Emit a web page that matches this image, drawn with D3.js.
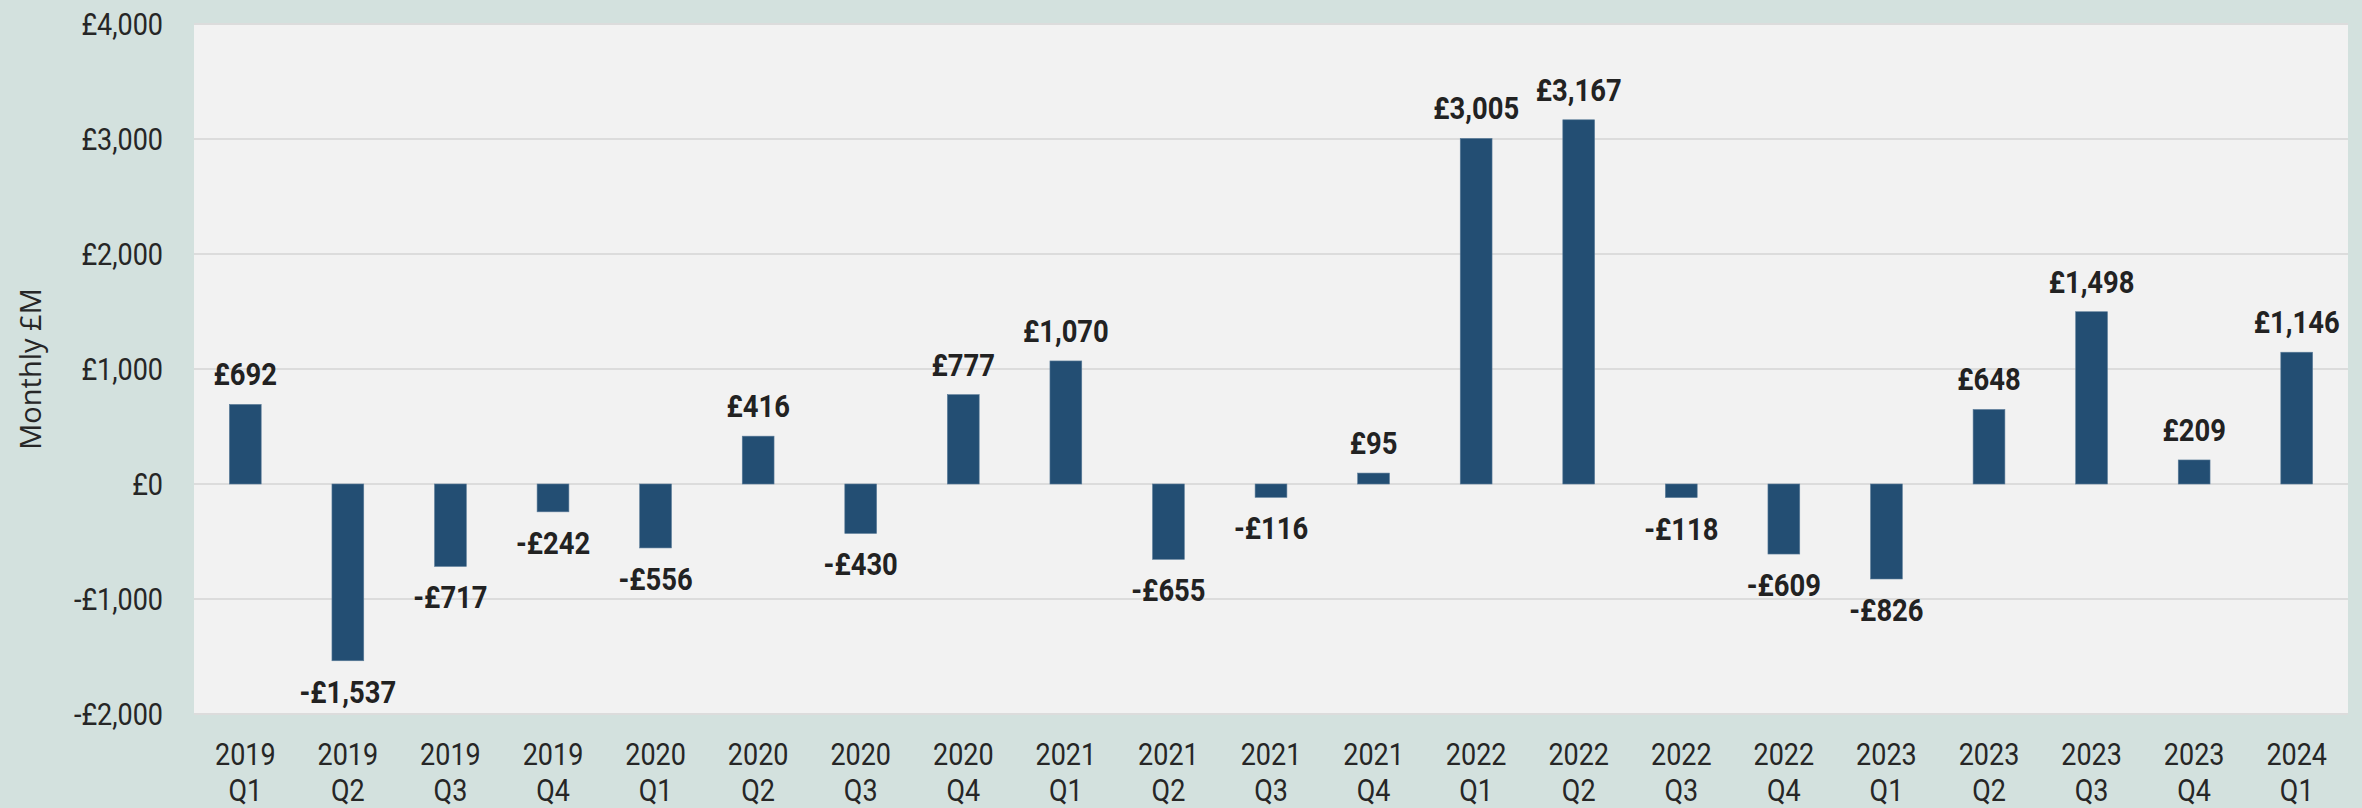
<!DOCTYPE html>
<html><head><meta charset="utf-8">
<script src="https://cdn.jsdelivr.net/npm/d3@7"></script>
<style>
html,body{margin:0;padding:0;background:#d3e1de;}
svg{display:block;}
</style></head>
<body>
<svg id="chart" width="2362" height="808"></svg>
<script>
const years = ["2019","2019","2019","2019","2020","2020","2020","2020","2021","2021","2021","2021","2022","2022","2022","2022","2023","2023","2023","2023","2024"];
const quarters = ["Q1","Q2","Q3","Q4","Q1","Q2","Q3","Q4","Q1","Q2","Q3","Q4","Q1","Q2","Q3","Q4","Q1","Q2","Q3","Q4","Q1"];
const values = [692,-1537,-717,-242,-556,416,-430,777,1070,-655,-116,95,3005,3167,-118,-609,-826,648,1498,209,1146];
const yTicks = [-2000,-1000,0,1000,2000,3000,4000];
const yTitle = "Monthly £M";

const W = 2362, H = 808;
const m = {top:24, right:14, bottom:94, left:194};
const svg = d3.select("#chart");
const cats = values.map((d,i)=>i);
const x = d3.scaleBand().domain(cats).range([m.left, W-m.right]).paddingInner(0.69).paddingOuter(0.345);
const y = d3.scaleLinear().domain([-2000,4000]).range([H-m.bottom, m.top]);
const SX = 0.87;
const fmt = v => (v<0?"-":"") + "£" + d3.format(",")(Math.abs(v));

svg.append("rect").attr("x",m.left).attr("y",m.top).attr("width",W-m.left-m.right).attr("height",H-m.top-m.bottom).attr("fill","#f2f2f2");

// gridlines
svg.append("g").selectAll("line").data(yTicks).join("line")
  .attr("x1",m.left).attr("x2",W-m.right)
  .attr("y1",d=>y(d)).attr("y2",d=>y(d))
  .attr("stroke","#dcdcdc").attr("stroke-width",2);

// y tick labels
svg.append("g").selectAll("text").data(yTicks).join("text")
  .attr("transform",d=>`translate(163,${y(d)}) scale(${SX},1)`)
  .attr("text-anchor","end").attr("dy","0.36em")
  .attr("font-family","Roboto").attr("font-size",31).attr("fill","#262626")
  .text(d=>fmt(d));

// bars
svg.append("g").selectAll("rect").data(values).join("rect")
  .attr("x",(d,i)=>x(i)).attr("width",x.bandwidth())
  .attr("y",d=>y(Math.max(0,d))).attr("height",d=>Math.abs(y(d)-y(0)))
  .attr("fill","#234e73").attr("stroke","#5b7c99").attr("stroke-width",0.6);

// value labels
svg.append("g").selectAll("text").data(values).join("text")
  .attr("transform",(d,i)=>{
    const cx = x(i)+x.bandwidth()/2;
    const ty = d>=0 ? y(d)-19 : y(d)+42;
    return `translate(${cx},${ty}) scale(${SX},1)`;
  })
  .attr("text-anchor","middle")
  .attr("font-family","Roboto").attr("font-weight","bold").attr("font-size",31.5).attr("fill","#222")
  .text(d=>fmt(d));

// x labels
const xl = svg.append("g").selectAll("g").data(cats).join("g")
  .attr("transform",i=>`translate(${x(i)+x.bandwidth()/2},0)`);
xl.append("text").attr("transform",`translate(0,765) scale(${SX},1)`).attr("text-anchor","middle")
  .attr("font-family","Roboto").attr("font-size",31).attr("fill","#262626").text(i=>years[i]);
xl.append("text").attr("transform",`translate(0,801) scale(${SX},1)`).attr("text-anchor","middle")
  .attr("font-family","Roboto").attr("font-size",31).attr("fill","#262626").text(i=>quarters[i]);

// y title
svg.append("text").attr("transform",`translate(41,${(m.top+H-m.bottom)/2}) rotate(-90)`)
  .attr("text-anchor","middle").attr("font-family","Open Sans").attr("font-size",29).attr("fill","#262626")
  .text(yTitle);
</script>
</body></html>
